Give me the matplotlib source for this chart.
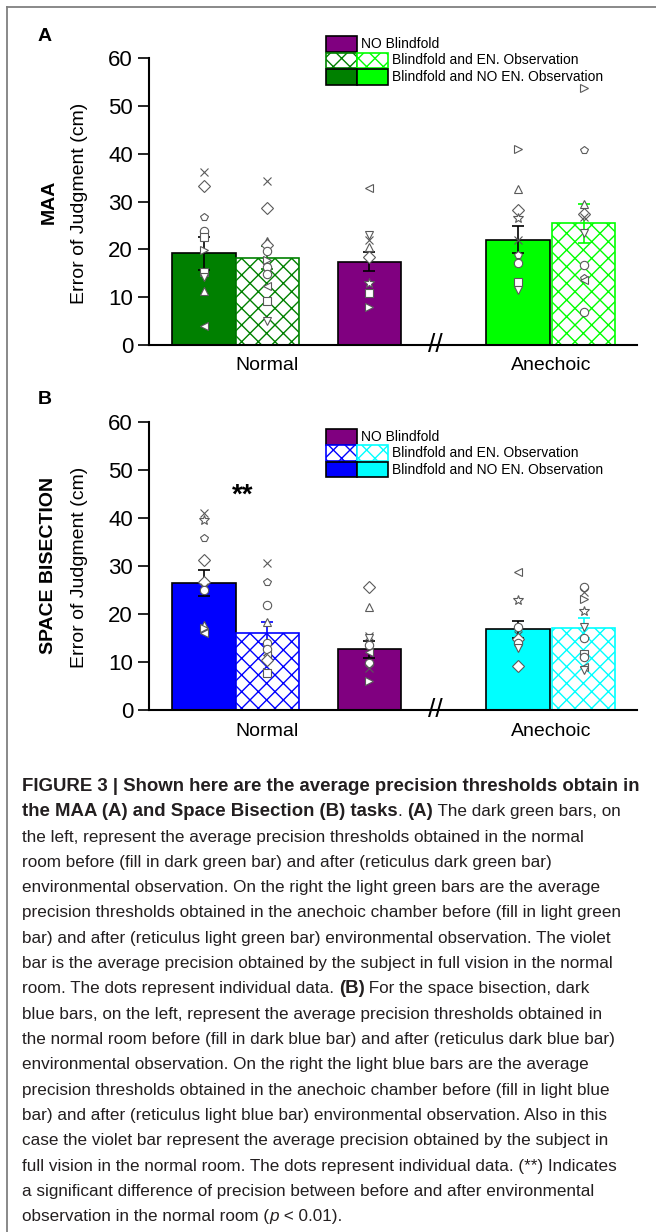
import numpy as np
import matplotlib
matplotlib.use('Agg')
import matplotlib.pyplot as plt
from matplotlib.patches import Rectangle
from matplotlib.lines import Line2D
from matplotlib import font_manager as fm

# ---- data -------------------------------------------------------------
bar_x = [0.87, 1.87, 3.48, 5.83, 6.87]
group_names = ['Normal', 'Anechoic']
group_x = [1.87, 6.35]
yticks = [0, 10, 20, 30, 40, 50, 60]
legend_labels = ['NO Blindfold', 'Blindfold and EN. Observation', 'Blindfold and NO EN. Observation']

# MAA (panel A): dark filled, dark hatched, violet, light filled, light hatched
maa_mean = [19.2, 18.3, 17.4, 22.0, 25.5]
maa_sem = [3.4, 2.4, 2.0, 2.8, 4.1]
maa_pts = [
    [36.2, 33.3, 26.8, 23.8, 22.5, 19.9, 15.3, 14.3, 11.3, 4.0],
    [34.4, 28.6, 21.8, 20.9, 19.7, 17.8, 16.4, 14.9, 12.4, 9.3, 5.1],
    [32.8, 23.0, 22.0, 20.6, 18.5, 12.9, 10.9, 7.9],
    [41.1, 32.6, 28.2, 26.5, 22.0, 18.8, 17.1, 13.2, 11.6],
    [53.8, 40.8, 29.5, 27.5, 26.8, 23.4, 16.7, 14.0, 13.6, 7.0],
]
maa_mk = [
    ['x', 'D', 'p', 'o', 's', '>', 's', 'v', '^', '<'],
    ['x', 'D', '^', 'D', 'o', '>', 'o', 'o', '<', 's', 'v'],
    ['<', 'v', 'x', '^', 'D', '*', 's', '>'],
    ['>', '^', 'D', '*', 'x', 'p', 'o', 's', 'v'],
    ['>', 'p', '^', 'D', 'x', 'v', 'o', 'p', '<', 'o'],
]

# Space bisection (panel B)
sb_mean = [26.4, 16.0, 12.6, 16.8, 17.0]
sb_sem = [2.7, 2.3, 1.8, 1.8, 2.1]
sb_pts = [
    [41.1, 39.5, 35.7, 31.2, 26.7, 25.7, 25.0, 17.7, 17.0, 16.0],
    [30.5, 26.7, 21.9, 18.4, 13.9, 12.6, 11.4, 10.4, 8.0, 7.6],
    [25.7, 21.4, 15.3, 14.9, 13.5, 12.1, 9.7, 8.7, 6.1],
    [28.8, 22.9, 17.2, 15.6, 14.7, 13.9, 13.0, 9.2],
    [25.7, 24.6, 23.0, 20.5, 17.3, 14.9, 11.7, 11.0, 9.0, 8.3],
]
sb_mk = [
    ['x', '*', 'p', 'D', 'D', 'x', 'o', '^', '>', '<'],
    ['x', 'p', 'o', '^', 'o', 'o', '<', 'D', '>', 's'],
    ['D', '^', 'x', 'v', 'o', '<', 'o', 'x', '>'],
    ['<', '*', 'o', 'x', 'D', 'o', 'v', 'D'],
    ['o', 'x', '>', '*', 'v', 'o', 's', 'o', '<', 'v'],
]

caption = [
    [('FIGURE 3 | Shown here are the average precision thresholds obtain in', 'b')],
    [('the MAA (A) and Space Bisection (B) tasks', 'b'), ('. ', 'r'), ('(A)', 'b'),
     (' The dark green bars, on', 'r')],
    [('the left, represent the average precision thresholds obtained in the normal', 'r')],
    [('room before (fill in dark green bar) and after (reticulus dark green bar)', 'r')],
    [('environmental observation. On the right the light green bars are the average', 'r')],
    [('precision thresholds obtained in the anechoic chamber before (fill in light green', 'r')],
    [('bar) and after (reticulus light green bar) environmental observation. The violet', 'r')],
    [('bar is the average precision obtained by the subject in full vision in the normal', 'r')],
    [('room. The dots represent individual data. ', 'r'), ('(B)', 'b'),
     (' For the space bisection, dark', 'r')],
    [('blue bars, on the left, represent the average precision thresholds obtained in', 'r')],
    [('the normal room before (fill in dark blue bar) and after (reticulus dark blue bar)', 'r')],
    [('environmental observation. On the right the light blue bars are the average', 'r')],
    [('precision thresholds obtained in the anechoic chamber before (fill in light blue', 'r')],
    [('bar) and after (reticulus light blue bar) environmental observation. Also in this', 'r')],
    [('case the violet bar represent the average precision obtained by the subject in', 'r')],
    [('full vision in the normal room. The dots represent individual data. (**) Indicates', 'r')],
    [('a significant difference of precision between before and after environmental', 'r')],
    [('observation in the normal room (', 'r'), ('p', 'i'), (' < 0.01).', 'r')],
]

# ---- style ------------------------------------------------------------
plt.rcParams['font.family'] = ['Liberation Sans', 'DejaVu Sans']
plt.rcParams['hatch.linewidth'] = 1.0
names = {f.name for f in fm.fontManager.ttflist}
cap_font = 'Liberation Sans Narrow' if 'Liberation Sans Narrow' in names else 'Liberation Sans'
cap_size = 14.6 if cap_font == 'Liberation Sans Narrow' else 12.3
bold_font = 'Liberation Sans'
bold_size = 13.4

W, H = 656, 1232
fig = plt.figure(figsize=(W / 100, H / 100), dpi=100)
violet = '#800080'


def fx(x):
    return x / W


def fy(y):
    return 1 - y / H


def panel(top, bottom, means, sems, pts, mks, dark, light, letter, task, leg_top):
    ax = fig.add_axes([fx(149), fy(bottom), fx(637) - fx(149), fy(top) - fy(bottom)])
    faces = [dark, 'white', violet, light, 'white']
    edges = ['black', dark, 'black', 'black', light]
    hatches = [None, 'xx', None, None, 'xx']
    for i in range(5):
        ax.bar(bar_x[i], means[i], width=1.0, color=faces[i], edgecolor=edges[i],
               hatch=hatches[i], linewidth=1.2, zorder=2)
        ax.errorbar(bar_x[i], means[i], yerr=sems[i], fmt='none', ecolor=edges[i],
                    elinewidth=1.2, capsize=4, capthick=1.2, zorder=3)
        for v, m in zip(pts[i], mks[i]):
            ax.plot(bar_x[i], v, ls='none', marker=m, ms=6 if m != '*' else 7,
                    mfc='white', mec='#5a5a5a', mew=0.8, zorder=4)
    ax.set_xlim(0, 7.71)
    ax.set_ylim(0, 60)
    ax.set_yticks(yticks)
    ax.tick_params(axis='y', labelsize=16, length=8, width=1.2, direction='out')
    ax.set_xticks(group_x)
    ax.set_xticklabels(group_names)
    ax.tick_params(axis='x', labelsize=14, length=0, pad=9)
    ax.spines['right'].set_visible(False)
    ax.spines['top'].set_visible(False)
    ax.spines['left'].set_linewidth(1.5)
    ax.spines['bottom'].set_linewidth(1.5)
    ax.text(4.52, 0, '//', fontsize=19, ha='center', va='center', clip_on=False, zorder=5)

    fig.text(fx(38), fy(top - 22), letter, fontsize=14, fontweight='bold', ha='left', va='center')
    mid = (top + bottom) / 2
    fig.text(fx(49), fy(mid), task, fontsize=14, fontweight='bold', rotation=90,
             ha='center', va='center')
    fig.text(fx(80), fy(mid + 2), 'Error of Judgment (cm)', fontsize=14, rotation=90,
             ha='center', va='center')

    # legend drawn by hand, two-column swatches like the original
    rh = 16.5
    rows = [[(violet, 'black', None)],
            [('white', dark, 'xx'), ('white', light, 'xx')],
            [(dark, 'black', None), (light, 'black', None)]]
    for r, row in enumerate(rows):
        y0 = leg_top + r * rh
        for c, (fc, ec, ht) in enumerate(row):
            fig.add_artist(Rectangle((fx(326 + c * 31), fy(y0 + rh - 1)), 31 / W, (rh - 1) / H,
                                     facecolor=fc, edgecolor=ec, hatch=ht, linewidth=1.2,
                                     transform=fig.transFigure))
        tx = 361 if r == 0 else 392
        fig.text(fx(tx), fy(y0 + rh / 2 - 0.5), legend_labels[r], fontsize=10,
                 ha='left', va='center')
    return ax


axA = panel(58.3, 345, maa_mean, maa_sem, maa_pts, maa_mk, '#008000', '#00ff00', 'A', 'MAA', 36)
axB = panel(421.7, 710, sb_mean, sb_sem, sb_pts, sb_mk, '#0000ff', '#00ffff', 'B',
            'SPACE BISECTION', 429)
axB.text(1.48, 43.2, '**', fontsize=20, fontweight='bold', ha='center', va='baseline')

# frame lines of the figure box
fig.add_artist(Line2D([fx(7), fx(7)], [0, fy(7)], color='#808080', lw=1.3))
fig.add_artist(Line2D([fx(7), 1], [fy(7), fy(7)], color='#808080', lw=1.3))

# caption, with bold / italic runs placed one after another on a shared baseline
rend = fig.canvas.get_renderer()
for i, line in enumerate(caption):
    x = 22
    for txt, st in line:
        if st == 'b':
            kw = dict(fontsize=bold_size, family=[bold_font, 'DejaVu Sans'], fontweight='bold')
        else:
            kw = dict(fontsize=cap_size, family=[cap_font, 'DejaVu Sans'],
                      fontstyle='italic' if st == 'i' else 'normal')
        t = fig.text(fx(x), fy(791 + 25.3 * i), txt, color='#231f20', va='baseline',
                     ha='left', **kw)
        x += t.get_window_extent(rend).width

fig.savefig('out.png', dpi=100)
